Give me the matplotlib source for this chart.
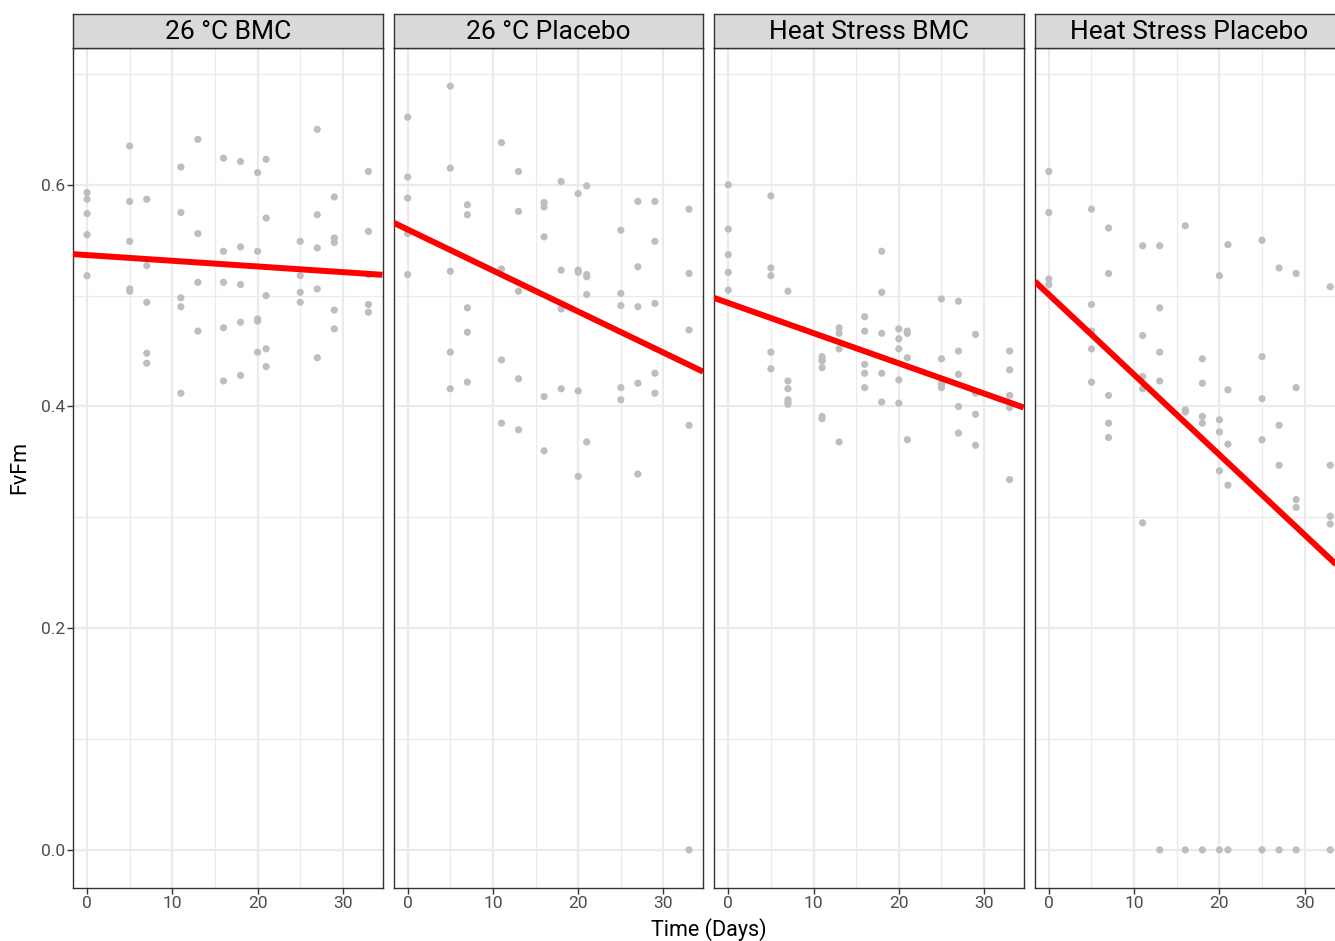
import numpy as np
import matplotlib
matplotlib.use("Agg")
import matplotlib.pyplot as plt

plt.rcParams['font.family'] = ['Roboto', 'DejaVu Sans']

DAYS = [0, 5, 7, 11, 13, 16, 18, 20, 21, 25, 27, 29, 33]
PANELS = ["26 °C BMC", "26 °C Placebo", "Heat Stress BMC", "Heat Stress Placebo"]

bmc_26 = [
    [0.593, 0.587, 0.574, 0.555, 0.518],
    [0.635, 0.585, 0.549, 0.506, 0.504],
    [0.587, 0.527, 0.494, 0.448, 0.439],
    [0.616, 0.575, 0.498, 0.490, 0.412],
    [0.641, 0.556, 0.512, 0.468],
    [0.624, 0.540, 0.512, 0.471, 0.423],
    [0.621, 0.544, 0.510, 0.476, 0.428],
    [0.611, 0.540, 0.479, 0.477, 0.449],
    [0.623, 0.570, 0.500, 0.452, 0.436],
    [0.549, 0.518, 0.503, 0.494],
    [0.650, 0.573, 0.543, 0.506, 0.444],
    [0.589, 0.552, 0.548, 0.487, 0.470],
    [0.612, 0.558, 0.519, 0.492, 0.485],
]
placebo_26 = [
    [0.661, 0.607, 0.588, 0.556, 0.519],
    [0.689, 0.615, 0.522, 0.449, 0.416],
    [0.582, 0.573, 0.489, 0.467, 0.422],
    [0.638, 0.524, 0.442, 0.385],
    [0.612, 0.576, 0.504, 0.425, 0.379],
    [0.584, 0.580, 0.553, 0.409, 0.360],
    [0.603, 0.523, 0.488, 0.416],
    [0.592, 0.523, 0.521, 0.414, 0.337],
    [0.599, 0.519, 0.517, 0.501, 0.368],
    [0.559, 0.502, 0.491, 0.417, 0.406],
    [0.585, 0.526, 0.490, 0.421, 0.339],
    [0.585, 0.549, 0.493, 0.430, 0.412],
    [0.578, 0.520, 0.469, 0.383, 0.0],
]
heat_bmc = [
    [0.600, 0.560, 0.537, 0.521, 0.505],
    [0.590, 0.525, 0.518, 0.449, 0.434],
    [0.504, 0.423, 0.416, 0.406, 0.404, 0.402],
    [0.445, 0.442, 0.441, 0.435, 0.391, 0.389],
    [0.471, 0.466, 0.452, 0.368],
    [0.481, 0.468, 0.438, 0.430, 0.417],
    [0.540, 0.503, 0.466, 0.430, 0.404],
    [0.470, 0.461, 0.452, 0.424, 0.403],
    [0.468, 0.466, 0.444, 0.370],
    [0.497, 0.443, 0.421, 0.419, 0.417],
    [0.495, 0.450, 0.429, 0.400, 0.376],
    [0.465, 0.412, 0.393, 0.365],
    [0.450, 0.433, 0.410, 0.399, 0.334],
]
heat_placebo = [
    [0.612, 0.575, 0.515, 0.510],
    [0.578, 0.492, 0.468, 0.452, 0.422],
    [0.561, 0.520, 0.410, 0.385, 0.372],
    [0.545, 0.464, 0.427, 0.416, 0.295],
    [0.545, 0.489, 0.449, 0.423, 0.0],
    [0.563, 0.397, 0.395, 0.0],
    [0.443, 0.421, 0.391, 0.385, 0.0],
    [0.518, 0.388, 0.377, 0.342, 0.0],
    [0.546, 0.415, 0.366, 0.329, 0.0],
    [0.550, 0.445, 0.407, 0.370, 0.0],
    [0.525, 0.383, 0.347, 0.0],
    [0.520, 0.417, 0.316, 0.309, 0.0],
    [0.508, 0.347, 0.301, 0.294, 0.0],
]
SERIES = [bmc_26, placebo_26, heat_bmc, heat_placebo]

W, H = 1335, 941
fig = plt.figure(figsize=(W / 100, H / 100), dpi=100)
fig.patch.set_facecolor("white")

left0 = 73.0
pw = 309.5
step = 320.6
ptop = 48.0
pbot = 888.0
stop = 14.0

XLIM = (-1.65, 34.65)
YLIM = (-0.0344, 0.7234)
grid_c = "#EBEBEB"
border_c = "#333333"

for i, (name, series) in enumerate(zip(PANELS, SERIES)):
    l = left0 + i * step
    ax = fig.add_axes([l / W, 1 - pbot / H, pw / W, (pbot - ptop) / H])
    xs = np.concatenate([[d] * len(v) for d, v in zip(DAYS, series)])
    ys = np.concatenate([v for v in series])
    ax.set_xlim(*XLIM)
    ax.set_ylim(*YLIM)
    ax.set_xticks([0, 10, 20, 30])
    ax.set_xticks([5, 15, 25], minor=True)
    ax.set_yticks([0.0, 0.2, 0.4, 0.6])
    ax.set_yticks([0.1, 0.3, 0.5, 0.7], minor=True)
    ax.grid(True, which="major", color=grid_c, linewidth=1.6, zorder=0)
    ax.grid(True, which="minor", color=grid_c, linewidth=0.9, zorder=0)
    ax.set_axisbelow(True)
    ax.scatter(xs, ys, s=27, color="#BEBEBE", edgecolors="none", zorder=2)
    b, a = np.polyfit(xs, ys, 1)
    xx = np.array(XLIM)
    ax.plot(xx, a + b * xx, color="#FF0000", linewidth=4.3, zorder=3,
            solid_capstyle="butt")
    for s in ax.spines.values():
        s.set_color(border_c)
        s.set_linewidth(1.0)
    ax.tick_params(axis="both", which="major", length=4, width=1.0,
                   color=border_c, labelcolor="#4D4D4D", labelsize=12.5, pad=2)
    ax.tick_params(axis="both", which="minor", length=0)
    ax.set_yticklabels(["0.0", "0.2", "0.4", "0.6"])
    if i > 0:
        ax.tick_params(axis="y", which="major", length=0, labelleft=False)
    # strip
    sax = fig.add_axes([l / W, 1 - ptop / H, pw / W, (ptop - stop) / H])
    sax.set_facecolor("#D9D9D9")
    sax.set_xticks([])
    sax.set_yticks([])
    for s in sax.spines.values():
        s.set_color(border_c)
        s.set_linewidth(1.0)
    sax.text(0.5, 0.47, name, ha="center", va="center", fontsize=19,
             color="black", transform=sax.transAxes)

fig.text(20 / W, 1 - ((ptop + pbot) / 2) / H, "FvFm", rotation=90,
         ha="center", va="center", fontsize=15.5, color="black")
cx = (left0 + left0 + 3 * step + pw) / 2
fig.text(cx / W, 1 - 930 / H, "Time (Days)", ha="center", va="center",
         fontsize=15.5, color="black")

fig.savefig("out.png", dpi=100)
